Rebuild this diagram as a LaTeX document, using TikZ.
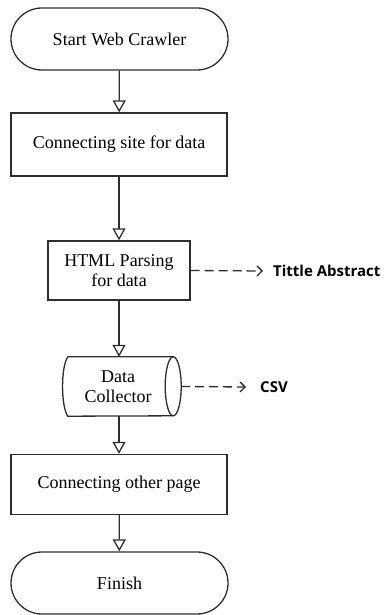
\documentclass[tikz,border=0pt]{standalone}
\usepackage{fontspec}
\setmainfont{Liberation Serif}
\newfontfamily\lblfont{Open Sans}
\usetikzlibrary{arrows.meta,positioning,calc}
\definecolor{ln}{HTML}{2E2E2E}
\tikzset{
  x=1pt,y=1pt,
  tfont/.style={font=\fontsize{18}{20}\selectfont},
  base/.style={draw=ln,line width=1.3pt,align=center,tfont,inner sep=0pt},
  term/.style={base,rounded corners=31pt,minimum width=217pt,minimum height=62pt},
  proc/.style={base,minimum width=216pt,minimum height=60pt},
  flow/.style={draw=ln,line width=1.3pt,-{Triangle[open,length=12pt,width=13pt,fill=white]}},
  dflow/.style={draw=ln,line width=1.3pt,dash pattern=on 9pt off 5pt,-{Straight Barb[length=5pt,width=10pt]}},
  lbl/.style={font=\lblfont\bfseries\fontsize{15}{17}\selectfont,anchor=west,inner sep=0pt}
}
\begin{document}
\begin{tikzpicture}
\useasboundingbox (0,0) rectangle (383,-615);
\node[term] (start) at (119.5,-39) {Start Web Crawler};
\node[proc,minimum height=63pt] (site) at (119,-144.5) {Connecting site for data};
\node[base,minimum width=142pt,minimum height=59pt] (html) at (119,-270.5) {HTML Parsing\\for data};
\node[inner sep=0pt,minimum width=118pt,minimum height=59pt] (dc) at (122,-386.5) {};
\draw[ln,line width=1.3pt]
  ($(dc.north west)+(5,0)$) -- ($(dc.north east)+(-8,0)$)
  arc[start angle=90,end angle=-90,x radius=8,y radius=29.5]
  -- ($(dc.south west)+(5,0)$)
  .. controls ($(dc.south west)+(-2,10)$) and ($(dc.north west)+(-2,-10)$) .. ($(dc.north west)+(5,0)$);
\draw[ln,line width=1.3pt] ($(dc.north east)+(-8,0)$) arc[start angle=90,end angle=270,x radius=8,y radius=29.5];
\node[tfont,align=center,inner sep=0pt] (dct) at (118,-386.5) {Data\\Collector};
\node[proc] (other) at (119,-484.5) {Connecting other page};
\node[term] (finish) at (119.5,-583) {Finish};
\draw[flow] (start) -- (site);
\draw[flow] (site) -- (html);
\draw[flow] (html.south) -- (html.south|-dc.north);
\draw[flow] (html.south|-dc.south) -- (other.north);
\draw[flow] (other) -- (finish);
\node[lbl] (ta) at (273,-271) {Tittle Abstract};
\node[lbl] (csv) at (260,-387) {CSV};
\coordinate (taend) at ($(ta.west)+(-10,0)$);
\coordinate (csvend) at ($(csv.west)+(-14,0)$);
\draw[dflow] (html.east) -- (taend);
\draw[dflow] (dc.east) -- (csvend);
\end{tikzpicture}
\end{document}
